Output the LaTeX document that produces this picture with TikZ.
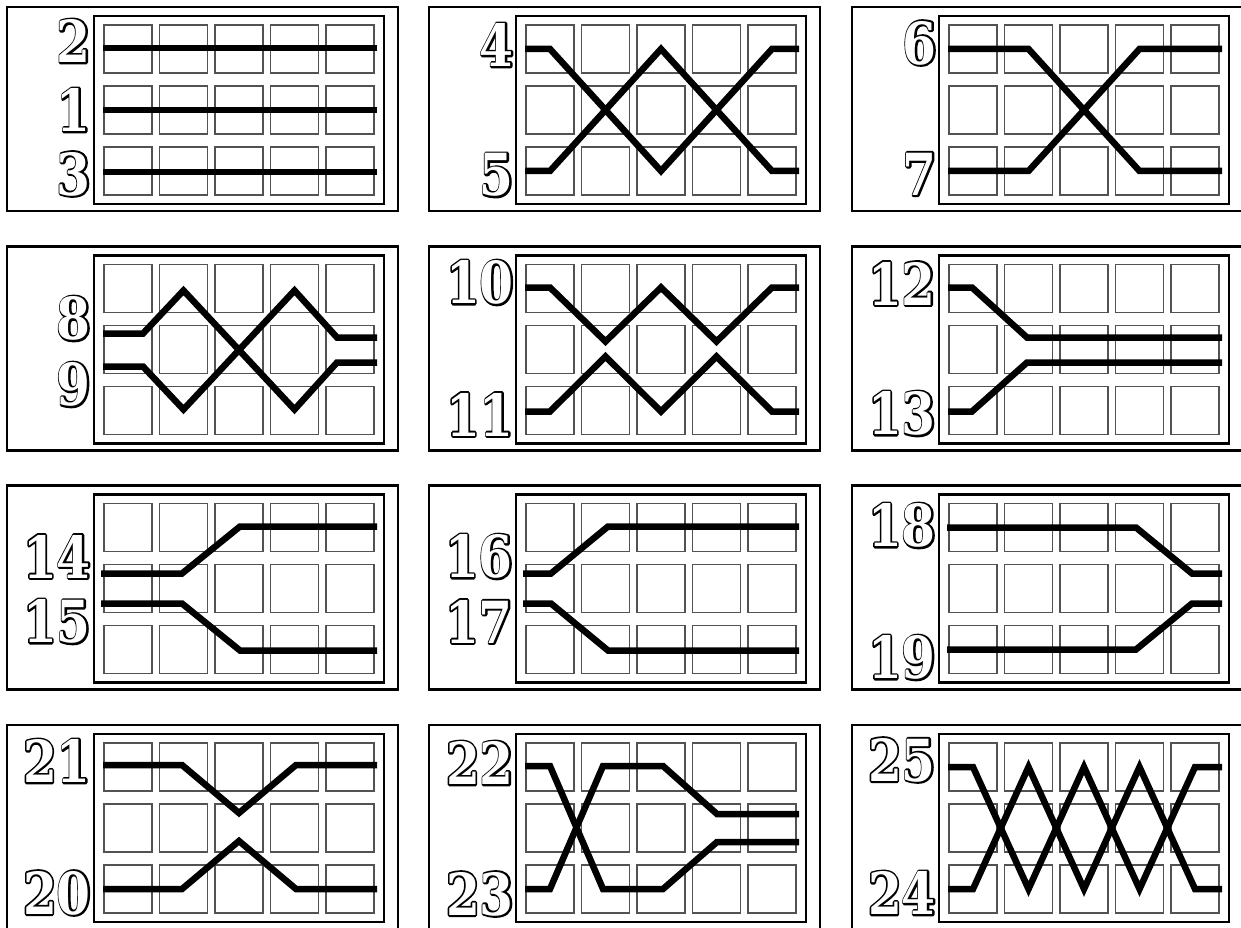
\documentclass[tikz,border=0pt]{standalone}
\usepackage{fontspec}
\newfontfamily\digfam{DejaVu Serif}
\newcommand\digfont{\fontsize{58}{58}\selectfont\digfam\bfseries}
\newcommand\outl{\special{pdf:literal direct 1 Tr 3.8 w 1 j}}
\tikzset{
  outerbox/.style={draw=black, line width=2.2pt},
  innerbox/.style={draw=black, line width=2.8pt},
  cellbox/.style={draw=black!68, line width=1.4pt},
  track/.style={draw=black, line width=6.5pt, line join=miter},
  numtext/.style={font=\digfont, inner sep=0pt, anchor=east, xscale=0.84},
}
\newcommand\panelframe{%
  \draw[outerbox] (0,0) rectangle (391,204);
  \foreach \i in {0,...,4}{\foreach \j in {0,...,2}{
    \draw[cellbox] ({97+55.5*\i},{18+61*\j}) rectangle ++(48,48);}}
  \draw[innerbox] (87,9) rectangle (377,197);
}
\newcommand\numlabel[4]{%
  \node[numtext] at (#2,#3) {\outl #4};
  \node[numtext,text=white] (#1) at (#2,#3) {#4};
}
\begin{document}
\begin{tikzpicture}[x=1pt,y=-1pt]
\path[use as bounding box] (0,0) rectangle (1241,928);
\clip (0,0) rectangle (1241,928);
\fill[white] (0,0) rectangle (1241,928);

% Panel 1: 2,1,3
\begin{scope}[shift={(7,7)}]
  \panelframe
  \draw[track] (96,41) -- (370,41);
  \draw[track] (96,103) -- (370,103);
  \draw[track] (96,165) -- (370,165);
  \numlabel{n2}{84}{34}{2}
  \numlabel{n1}{84}{103}{1}
  \numlabel{n3}{84}{167}{3}
\end{scope}

% Panel 2: 4,5
\begin{scope}[shift={(429,7)}]
  \panelframe
  \draw[track] (96,42) -- (121,42) -- (232,164) -- (343,42) -- (370,42);
  \draw[track] (96,164) -- (121,164) -- (232,42) -- (343,164) -- (370,164);
  \numlabel{n4}{85}{38}{4}
  \numlabel{n5}{85}{168}{5}
\end{scope}

% Panel 3: 6,7
\begin{scope}[shift={(852,7)}]
  \panelframe
  \draw[track] (96,42) -- (176.5,42) -- (287.5,164) -- (370,164);
  \draw[track] (96,164) -- (176.5,164) -- (287.5,42) -- (370,42);
  \numlabel{n6}{85}{36}{6}
  \numlabel{n7}{85}{167}{7}
\end{scope}

% Panel 4: 8,9
\begin{scope}[shift={(7,246.5)}]
  \panelframe
  \draw[track] (96,87) -- (136,87) -- (176.5,44) -- (287.5,163) -- (330,116) -- (370,116);
  \draw[track] (96,120) -- (136,120) -- (176.5,163) -- (287.5,44) -- (330,91) -- (370,91);
  \numlabel{n8}{84}{72}{8}
  \numlabel{n9}{84}{138}{9}
\end{scope}

% Panel 5: 10,11
\begin{scope}[shift={(429,246.5)}]
  \panelframe
  \draw[track] (96,41) -- (121,41) -- (176.5,95) -- (232,41) -- (287.5,95) -- (343,41) -- (370,41);
  \draw[track] (96,165) -- (121,165) -- (176.5,110) -- (232,165) -- (287.5,110) -- (343,165) -- (370,165);
  \numlabel{n10}{85}{36}{10}
  \numlabel{n11}{85}{168}{11}
\end{scope}

% Panel 6: 12,13
\begin{scope}[shift={(852,246.5)}]
  \panelframe
  \draw[track] (96,41) -- (120,41) -- (175,91) -- (370,91);
  \draw[track] (96,165) -- (120,165) -- (175,116) -- (370,116);
  \numlabel{n12}{84}{37}{12}
  \numlabel{n13}{84}{167}{13}
\end{scope}

% Panel 7: 14,15
\begin{scope}[shift={(7,485.5)}]
  \panelframe
  \draw[track] (94,88) -- (175,88) -- (233,41) -- (370,41);
  \draw[track] (94,118) -- (175,118) -- (233,165) -- (370,165);
  \numlabel{n14}{84}{71}{14}
  \numlabel{n15}{84}{136}{15}
\end{scope}

% Panel 8: 16,17
\begin{scope}[shift={(429,485.5)}]
  \panelframe
  \draw[track] (94,88) -- (122,88) -- (179,41) -- (370,41);
  \draw[track] (94,118) -- (122,118) -- (179,165) -- (370,165);
  \numlabel{n16}{84}{71}{16}
  \numlabel{n17}{84}{136}{17}
\end{scope}

% Panel 9: 18,19
\begin{scope}[shift={(852,485.5)}]
  \panelframe
  \draw[track] (95,42) -- (284,42) -- (340,88) -- (370,88);
  \draw[track] (95,164) -- (284,164) -- (340,118) -- (370,118);
  \numlabel{n18}{84}{40}{18}
  \numlabel{n19}{84}{172}{19}
\end{scope}

% Panel 10: 21,20
\begin{scope}[shift={(7,725)}]
  \panelframe
  \draw[track] (96,40) -- (175,40) -- (232,88) -- (289,40) -- (370,40);
  \draw[track] (96,164) -- (175,164) -- (232,116) -- (289,164) -- (370,164);
  \numlabel{n21}{84}{36}{21}
  \numlabel{n20}{84}{168}{20}
\end{scope}

% Panel 11: 22,23
\begin{scope}[shift={(429,725)}]
  \panelframe
  \draw[track] (96,41) -- (121,41) -- (174,164) -- (234,164) -- (288,117) -- (370,117);
  \draw[track] (96,164) -- (121,164) -- (174,41) -- (234,41) -- (288,89) -- (370,89);
  \numlabel{n22}{85}{38}{22}
  \numlabel{n23}{85}{169}{23}
\end{scope}

% Panel 12: 25,24
\begin{scope}[shift={(852,725)}]
  \panelframe
  \draw[track] (96,42) -- (121,42) -- (176.5,164) -- (232,42) -- (287.5,164) -- (343,42) -- (370,42);
  \draw[track] (96,164) -- (121,164) -- (176.5,42) -- (232,164) -- (287.5,42) -- (343,164) -- (370,164);
  \numlabel{n25}{84}{35}{25}
  \numlabel{n24}{84}{168}{24}
\end{scope}
\end{tikzpicture}
\end{document}
